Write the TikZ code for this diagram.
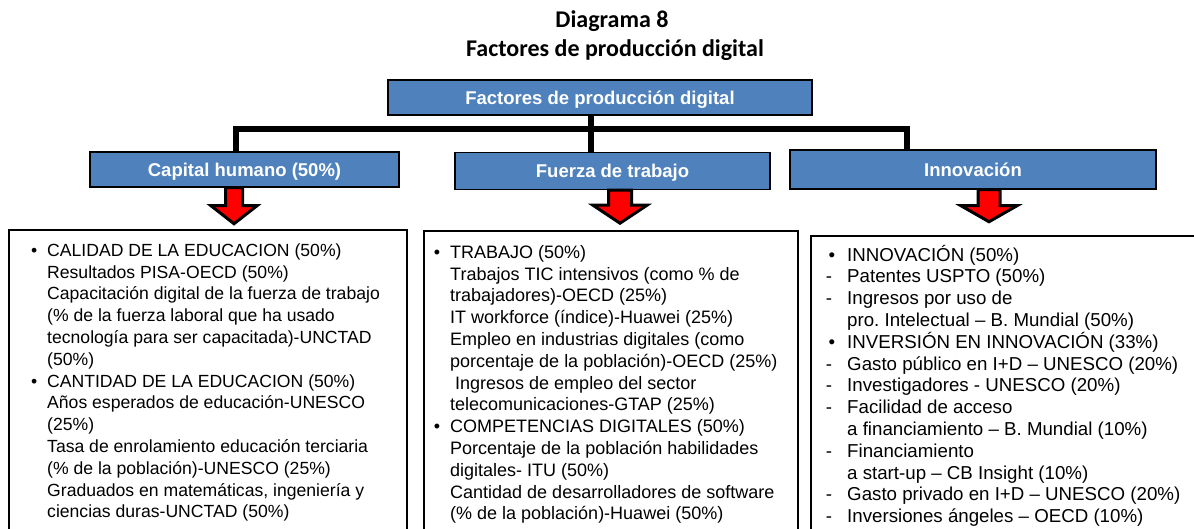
\documentclass[tikz,border=0pt]{standalone}
\usepackage{fontspec}
\setmainfont{Liberation Sans}
\newfontfamily\titfont{Carlito}
\usepackage{xcolor}
\usepackage{tikz}
\usetikzlibrary{calc}
\frenchspacing
\definecolor{boxblue}{HTML}{4F81BD}
\definecolor{flred}{HTML}{FF0000}
\tikzset{
  hd/.style={draw=black,line width=1.5pt,fill=boxblue,text=white,inner sep=0pt,font=\bfseries\fontsize{18.5}{20}\selectfont,text height=13.3pt,text depth=0pt},
  bus/.style={line width=6pt,black},
  flecha/.style={draw=black,line width=3pt,fill=flred,line join=miter},
  caja/.style={draw=black,line width=1.6pt,anchor=north west,inner sep=0pt},
  txt/.style={anchor=north west,inner sep=0pt,align=left},
  titulo/.style={font=\titfont\bfseries\fontsize{24}{28}\selectfont,anchor=base}
}

\begin{document}
\begin{tikzpicture}[x=1pt,y=-1pt]
\useasboundingbox (0,0) rectangle (1194,529);
\clip (0,0) rectangle (1194,529);
% titulo
\node[titulo] (tit1) at (612,28) {Diagrama 8};
\node[titulo] (tit2) at (615,57) {Factores de producción digital};
% cajas azules
\node[hd,minimum width=424pt,minimum height=35pt] (top) at (600,97.5) {Factores de producción digital};
\node[hd,minimum width=309pt,minimum height=35pt] (cap) at (244.5,169.5) {Capital humano (50\%)};
\node[hd,minimum width=315pt,minimum height=37pt] (fue) at (612.5,171) {Fuerza de trabajo};
\node[hd,minimum width=366pt,minimum height=39pt] (inn) at (973,169.5) {Innovación};
% conectores
\coordinate (jl) at (235.5,129.5);
\coordinate (jc) at (591,129.5);
\coordinate (jr) at (907,129.5);
\draw[bus] (cap.north -| jl) -- (jl) -- (jr) -- (inn.north -| jr);
\draw[bus] (top.south -| jc) -- (fue.north -| jc);
% flechas
\foreach \n/\dx/\s/\h/\L/\H in {cap/-10.5/8.5/23/18/18, fue/7.5/11.5/27/15/18, inn/16/11/28/16/16}{
  \coordinate (fa) at ([xshift=\dx pt]\n.south);
  \draw[flecha] ($(fa)+(-\s,0)$) -- ($(fa)+(-\s,\L)$) -- ($(fa)+(-\h,\L)$) -- ($(fa)+(0,\L+\H)$)
    -- ($(fa)+(\h,\L)$) -- ($(fa)+(\s,\L)$) -- ($(fa)+(\s,0)$) -- cycle;
}
% cajas de texto
\node[caja,minimum width=398pt,minimum height=320pt] (b1) at (8,229) {};
\node[caja,minimum width=374pt,minimum height=320pt] (b2) at (423,230) {};
\node[caja,minimum width=400pt,minimum height=320pt] (b3) at (810,235) {};
\node[txt,font=\fontsize{17.6}{21.8}\selectfont] (t1) at (47,238) {%
\rule{0pt}{18pt}\llap{•\hspace{10pt}}CALIDAD DE LA EDUCACION (50\%)\\
Resultados PISA-OECD (50\%)\\
Capacitación digital de la fuerza de trabajo\\
(\% de la fuerza laboral que ha usado\\
tecnología para ser capacitada)-UNCTAD\\
(50\%)\\
\llap{•\hspace{10pt}}CANTIDAD DE LA EDUCACION (50\%)\\
Años esperados de educación-UNESCO\\
(25\%)\\
Tasa de enrolamiento educación terciaria\\
(\% de la población)-UNESCO (25\%)\\
Graduados en matemáticas, ingeniería y\\
ciencias duras-UNCTAD (50\%)};
\node[txt,font=\fontsize{18}{21.8}\selectfont] (t2) at (450,240) {%
\rule{0pt}{18pt}\llap{•\hspace{10pt}}TRABAJO (50\%)\\
Trabajos TIC intensivos (como \% de\\
trabajadores)-OECD (25\%)\\
IT workforce (índice)-Huawei (25\%)\\
Empleo en industrias digitales (como\\
porcentaje de la población)-OECD (25\%)\\
\hspace{5pt}Ingresos de empleo del sector\\
telecomunicaciones-GTAP (25\%)\\
\llap{•\hspace{10pt}}COMPETENCIAS DIGITALES (50\%)\\
Porcentaje de la población habilidades\\
digitales- ITU (50\%)\\
Cantidad de desarrolladores de software\\
(\% de la población)-Huawei (50\%)};
\node[txt,font=\fontsize{18.7}{21.8}\selectfont] (t3) at (847,242.8) {%
\rule{0pt}{18pt}\llap{•\hspace{12pt}}INNOVACIÓN (50\%)\\
\llap{-\hspace{15pt}}Patentes USPTO (50\%)\\
\llap{-\hspace{15pt}}Ingresos por uso de\\
pro. Intelectual – B. Mundial (50\%)\\
\llap{•\hspace{12pt}}INVERSIÓN EN INNOVACIÓN (33\%)\\
\llap{-\hspace{15pt}}Gasto público en I+D – UNESCO (20\%)\\
\llap{-\hspace{15pt}}Investigadores - UNESCO (20\%)\\
\llap{-\hspace{15pt}}Facilidad de acceso\\
a financiamiento – B. Mundial (10\%)\\
\llap{-\hspace{15pt}}Financiamiento\\
a start-up – CB Insight (10\%)\\
\llap{-\hspace{15pt}}Gasto privado en I+D – UNESCO (20\%)\\
\llap{-\hspace{15pt}}Inversiones ángeles – OECD (10\%)};
\end{tikzpicture}
\end{document}
